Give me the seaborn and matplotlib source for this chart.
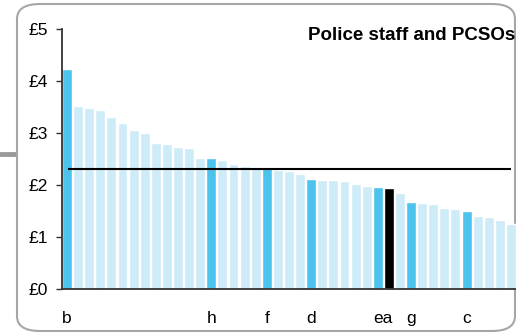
import matplotlib
matplotlib.use("Agg")
import matplotlib.pyplot as plt
import seaborn as sns
from matplotlib.patches import FancyBboxPatch
from matplotlib.lines import Line2D

# cost per head, sorted descending
values = [4.23, 3.52, 3.48, 3.44, 3.31, 3.19, 3.06, 3.00, 2.81, 2.79,
          2.73, 2.71, 2.52, 2.52, 2.48, 2.40, 2.37, 2.35, 2.35, 2.29,
          2.27, 2.21, 2.12, 2.10, 2.10, 2.08, 2.02, 1.98, 1.96, 1.94,
          1.85, 1.67, 1.65, 1.63, 1.56, 1.54, 1.50, 1.40, 1.38, 1.33, 1.25]
highlight = {0: "b", 13: "h", 18: "f", 22: "d", 28: "e", 29: "a", 31: "g", 36: "c"}
average = 2.31
tick_pos = [0, 13, 18, 22, 28.5, 31, 36]
tick_labels = ["b", "h", "f", "d", "ea", "g", "c"]
title = "Police staff and PCSOs"

LIGHT = "#cdecf8"
DARK = "#4cc3ec"

sns.set_style("white")
plt.rcParams["font.family"] = ["Liberation Sans", "DejaVu Sans"]

colors = []
for i in range(len(values)):
    if highlight.get(i) == "a":
        colors.append("black")
    elif i in highlight:
        colors.append(DARK)
    else:
        colors.append(LIGHT)

fig = plt.figure(figsize=(5.16, 3.32), dpi=100)

# rounded panel frame and the grey stub on the left
frame = FancyBboxPatch((17 / 516, 1 - 331 / 332), (515 - 17) / 516, (331 - 4) / 332,
                       boxstyle="round,pad=0,rounding_size=0.045",
                       transform=fig.transFigure, facecolor="white",
                       edgecolor="#a6a6a6", lw=1.5, zorder=-1)
fig.patches.append(frame)
fig.lines.append(Line2D([0, 17 / 516], [1 - 154 / 332] * 2, transform=fig.transFigure,
                        color="#9a9a9a", lw=3.5, zorder=-1))

ax = fig.add_axes([62 / 516, 43 / 332, 454 / 516, 260 / 332])
ax.set_zorder(2)
ax.patch.set_alpha(0)

idx = list(range(len(values)))
sns.barplot(x=idx, y=values, hue=idx, palette=colors, legend=False,
            width=0.9, saturation=1, ax=ax)

ax.hlines(average, 0.09, 40.0, color="black", lw=1.5, zorder=5)

ax.set_xlim(-0.45, -0.45 + 454 / 11.1)
ax.set_ylim(0, 5)
ax.set_yticks([0, 1, 2, 3, 4, 5])
ax.set_yticklabels([f"£{v}" for v in range(6)], fontsize=12.5, color="black")
ax.set_xticks(tick_pos)
ax.set_xticklabels(tick_labels, fontsize=12.5, color="black")
ax.tick_params(axis="x", length=0, pad=16)
ax.tick_params(axis="y", length=4, width=1, color="#333333", pad=6, left=True)

for s in ["top", "right"]:
    ax.spines[s].set_visible(False)
for s in ["left", "bottom"]:
    ax.spines[s].set_color("#333333")
    ax.spines[s].set_linewidth(1.3)

fig.text(308 / 516, 1 - 35 / 332, title, fontsize=13.5, fontweight="bold",
         va="center", color="black", zorder=3)

fig.savefig("out.png", dpi=100)
